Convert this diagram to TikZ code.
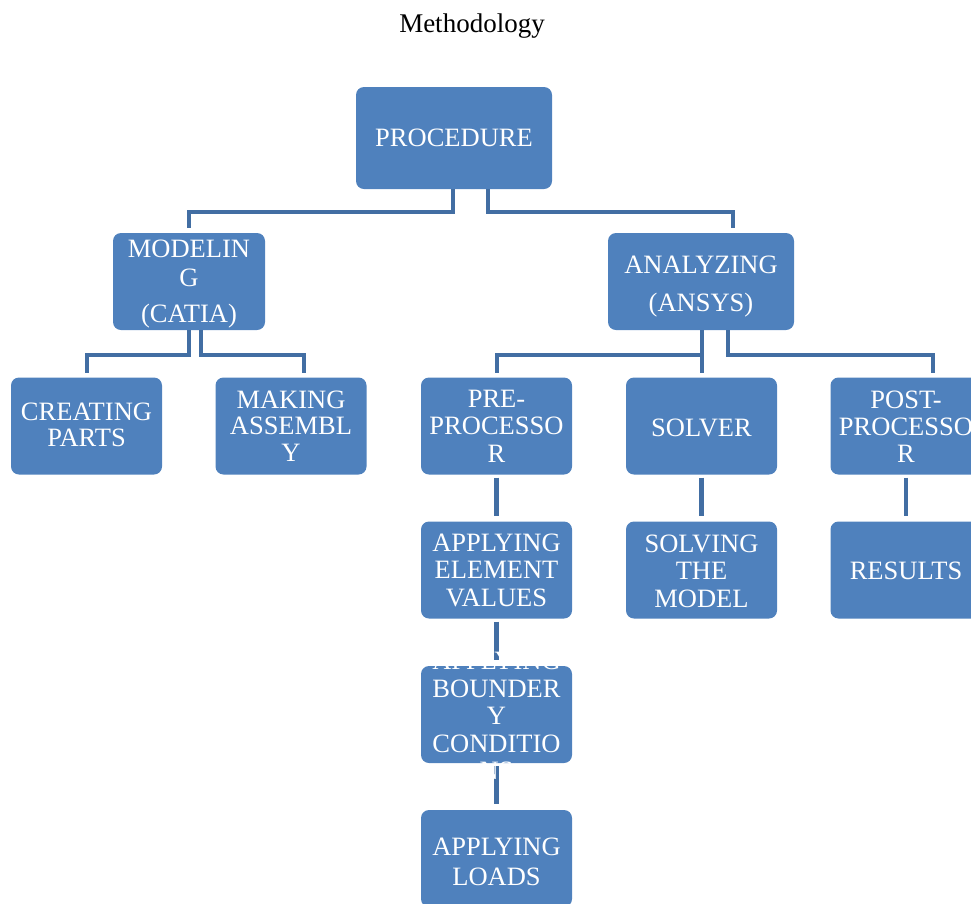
\documentclass[tikz,border=0pt]{standalone}
\usepackage{fontspec}
\setmainfont{Liberation Serif}
\usetikzlibrary{calc}
\definecolor{boxblue}{RGB}{79,129,189}
\definecolor{linkblue}{RGB}{66,110,163}
\newcommand\fsz[1]{\fontsize{26.5}{#1}\selectfont}
\begin{document}
\begin{tikzpicture}[x=1pt,y=-1pt,
 box/.style={rectangle, rounded corners=8pt, fill=boxblue, minimum width=151pt, minimum height=97pt, inner sep=0pt, outer sep=0pt},
 txt/.style={text=white, align=center, anchor=base, inner sep=0pt, font=\fsz{27.5}},
 conn/.style={draw=linkblue, line width=4.5pt}]
\useasboundingbox (0,0) rectangle (971,903);
\clip (0,0) rectangle (971,903);
% boxes
\node[box, minimum width=196pt, minimum height=102pt] (proc) at (454,138) {};
\node[box, minimum width=152pt] (mod) at (189,281.5) {};
\node[box, minimum width=186pt] (ana) at (701,281.5) {};
\node[box] (crt) at (86.5,426) {};
\node[box] (mak) at (291,426) {};
\node[box] (pre) at (496.5,426) {};
\node[box] (sol) at (701.5,426) {};
\node[box] (post) at (906,426) {};
\node[box] (elem) at (496.5,570) {};
\node[box] (solv) at (701.5,570) {};
\node[box] (res) at (906,570) {};
\node[box] (bnd) at (496.5,714.5) {};
\node[box] (load) at (496.5,858.5) {};
% connectors
\draw[conn] (proc.south -| 453,0) |- (189,212) -- ([yshift=5pt]mod.north -| 189,0);
\draw[conn] (proc.south -| 488,0) |- (733,212) -- ([yshift=5pt]ana.north -| 733,0);
\draw[conn] (mod.south -| 189,0) |- (87,355) -- ([yshift=5pt]crt.north -| 87,0);
\draw[conn] (mod.south -| 201,0) |- (304,355) -- ([yshift=5pt]mak.north -| 304,0);
\draw[conn] (ana.south -| 702,0) |- (497,355) -- ([yshift=5pt]pre.north -| 497,0);
\draw[conn] (ana.south -| 702,0) -- ([yshift=5pt]sol.north -| 702,0);
\draw[conn] (ana.south -| 728,0) |- (933,355) -- ([yshift=5pt]post.north -| 933,0);
\draw[conn] ([yshift=-3pt]pre.south) -- ([yshift=6pt]elem.north);
\draw[conn] ([yshift=-3pt]elem.south) -- ([yshift=6pt]bnd.north);
\draw[conn] ([yshift=-3pt]bnd.south) -- ([yshift=6pt]load.north);
\draw[conn] ([yshift=-3pt]sol.south) -- ([yshift=6pt]solv.north);
\draw[conn] ([yshift=-3pt]post.south) -- ([yshift=6pt]res.north);
% texts (anchor base = baseline of last line)
\node[txt, text=black, font=\fontsize{27}{30}\selectfont] (title) at (472,32) {Methodology};
\node[txt] (tproc) at (proc.center |- 0,146) {PROCEDURE};
\node[txt, font=\fsz{29}] (tmod) at (mod.center |- 0,322) {MODELIN\\G\\[7pt](CATIA)};
\node[txt, font=\fsz{38}] (tana) at (ana.center |- 0,311) {ANALYZING\\(ANSYS)};
\node[txt, font=\fsz{25.5}] (tcrt) at (crt.center |- 0,446) {CREATING\\PARTS};
\node[txt, font=\fsz{26.5}] (tmak) at (mak.center |- 0,461) {MAKING\\ASSEMBL\\Y};
\node[txt] (tpre) at (pre.center |- 0,462) {PRE-\\PROCESSO\\R};
\node[txt] (tsol) at (sol.center |- 0,436) {SOLVER};
\node[txt, font=\fsz{27}] (tpost) at (post.center |- 0,462) {POST-\\PROCESSO\\R};
\node[txt] (telem) at (elem.center |- 0,606) {APPLYING\\ELEMENT\\VALUES};
\node[txt] (tsolv) at (solv.center |- 0,607) {SOLVING\\THE\\MODEL};
\node[txt] (tres) at (res.center |- 0,579) {RESULTS};
\node[txt] (tbnd) at (bnd.center |- 0,779.5) {APPLYING\\BOUNDER\\Y\\CONDITIO\\NS};
\node[txt, font=\fsz{30}] (tload) at (load.center |- 0,885) {APPLYING\\LOADS};
\end{tikzpicture}
\end{document}
